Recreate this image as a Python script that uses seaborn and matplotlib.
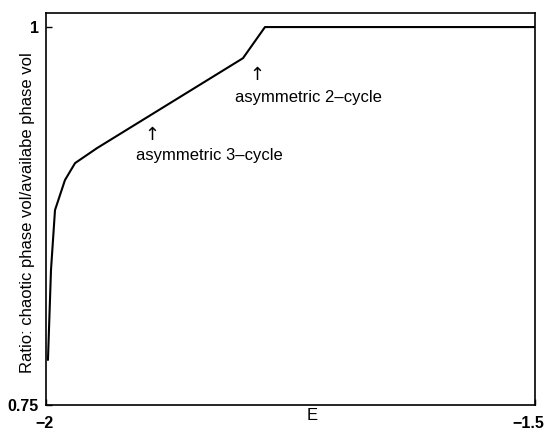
import matplotlib
matplotlib.use("Agg")
import matplotlib.pyplot as plt
import matplotlib.transforms as mtransforms
import seaborn as sns
import pandas as pd

# Energy values and chaotic-volume ratio along the curve
energy = [-1.998, -1.9949, -1.9908, -1.9806, -1.9703, -1.9479, -1.7986, -1.7761, -1.5]
ratio = [0.7798, 0.8393, 0.8789, 0.8988, 0.9100, 0.9199, 0.9794, 1.0, 1.0]

x_ticks = [-2, -1.5]
x_tick_labels = ["\u22122", "\u22121.5"]
y_ticks = [0.75, 1]
y_tick_labels = ["0.75", "1"]

sns.set_theme(style="white")
plt.rcParams["font.family"] = ["Liberation Sans", "DejaVu Sans"]
plt.rcParams["text.color"] = "black"
plt.rcParams["axes.labelcolor"] = "black"

df = pd.DataFrame({"E": energy, "ratio": ratio})

fig = plt.figure(figsize=(5.45, 4.36), dpi=100)
ax = fig.add_axes([46 / 545, 31 / 436, 489 / 545, 392 / 436])

sns.lineplot(data=df, x="E", y="ratio", ax=ax, color="black", linewidth=1.5)

ax.set_xlim(-2, -1.5)
ax.set_ylim(0.75, 1.0093)
ax.set_xticks(x_ticks)
ax.set_xticklabels(x_tick_labels, fontsize=11.5, fontweight="bold")
ax.set_yticks(y_ticks)
ax.set_yticklabels(y_tick_labels, fontsize=11.5, fontweight="bold")
ax.tick_params(direction="in", length=4, width=1, colors="black", left=True, bottom=True)
ax.tick_params(axis="x", pad=8)
ax.tick_params(axis="y", pad=5)

# keep the right-hand tick label inside the figure
last = ax.get_xticklabels()[-1]
last.set_ha("right")
last.set_transform(last.get_transform() + mtransforms.ScaledTranslation(9 / 100, 0, fig.dpi_scale_trans))
first = ax.get_xticklabels()[0]
first.set_transform(first.get_transform() + mtransforms.ScaledTranslation(-1 / 100, 0, fig.dpi_scale_trans))

for s in ax.spines.values():
    s.set_color("black")
    s.set_linewidth(1.2)

ax.set_xlabel("E", fontsize=12, color="black")
ax.xaxis.set_label_coords((312 - 46) / 489, -0.008)
ax.set_ylabel("Ratio: chaotic phase vol/availabe phase vol", fontsize=12, color="black")
ax.yaxis.set_label_coords(-0.037, 0.49)
ax.yaxis.label.set_va("center")

# Annotations for the asymmetric cycles
ax.text(-1.8916, 0.9285, "\u2191", ha="center", va="center", fontsize=13, family="DejaVu Sans", color="black")
ax.text(-1.8333, 0.9153, "asymmetric 3\u2013cycle", ha="center", va="center", fontsize=12, color="black")
ax.text(-1.7843, 0.9682, "\u2191", ha="center", va="center", fontsize=13, family="DejaVu Sans", color="black")
ax.text(-1.7316, 0.9536, "asymmetric 2\u2013cycle", ha="center", va="center", fontsize=12, color="black")

fig.savefig("out.png", dpi=100)
